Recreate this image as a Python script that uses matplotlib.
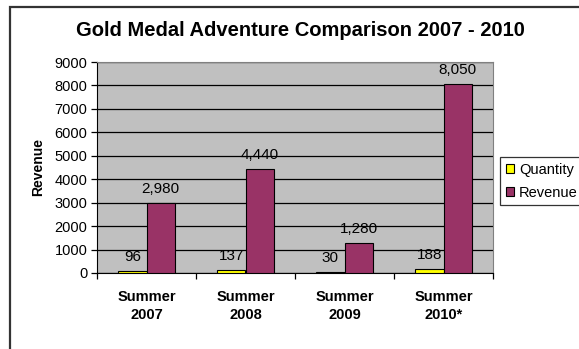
import numpy as np
import matplotlib
matplotlib.use('Agg')
from matplotlib import pyplot as plt
from matplotlib.patches import Rectangle

seasons = ['Summer\n2007', 'Summer\n2008', 'Summer\n2009', 'Summer\n2010*']
quantity = [96, 137, 30, 188]
revenue = [2980, 4440, 1280, 8050]
yticks = [0, 1000, 2000, 3000, 4000, 5000, 6000, 7000, 8000, 9000]

W, H = 579, 349
plt.rcParams['font.family'] = ['Liberation Sans', 'DejaVu Sans']

fig = plt.figure(figsize=(W / 100.0, H / 100.0), dpi=100)
ax = fig.add_axes([97.0 / W, 1 - 273.0 / H, 396.0 / W, 211.0 / H])

# chart area frame, runs off the right and bottom edges
fig.patches.append(Rectangle((10.0 / W, -0.2), 1.2, 1.2 - 7.0 / H, transform=fig.transFigure,
                             fill=False, edgecolor='#333333', linewidth=1.6))

x = np.arange(len(seasons))
w = 0.286
ax.set_facecolor('#C0C0C0')
ax.bar(x - w / 2, quantity, w, color='#FFFF00', edgecolor='black', linewidth=0.8, zorder=3, label='Quantity')
ax.bar(x + w / 2, revenue, w, color='#993366', edgecolor='black', linewidth=0.8, zorder=3, label='Revenue')

for i in range(len(seasons)):
    ax.annotate('{:,}'.format(quantity[i]), (x[i] - w / 2, quantity[i]), xytext=(0, 10),
                textcoords='offset points', ha='center', va='center', fontsize=11)
    ax.annotate('{:,}'.format(revenue[i]), (x[i] + w / 2, revenue[i]), xytext=(0, 10),
                textcoords='offset points', ha='center', va='center', fontsize=11)

ax.set_xlim(-0.5, len(seasons) - 0.5)
ax.set_ylim(0, 9000)
ax.set_yticks(yticks)
ax.set_yticklabels([str(v) for v in yticks], fontsize=10.5)
ax.yaxis.grid(True, color='black', linewidth=0.9, zorder=1)
ax.set_axisbelow(True)
ax.tick_params(axis='y', direction='out', length=4, width=0.9, pad=3)

ax.set_xticks(np.arange(len(seasons) + 1) - 0.5)
ax.set_xticklabels([])
ax.set_xticks(x, minor=True)
ax.set_xticklabels(seasons, minor=True, fontsize=10.5, fontweight='bold', linespacing=1.35)
ax.tick_params(axis='x', which='major', direction='out', length=4, width=0.9)
ax.tick_params(axis='x', which='minor', length=0, pad=12)

for side in ['top', 'right']:
    ax.spines[side].set_color('#808080')
for side in ['left', 'bottom']:
    ax.spines[side].set_color('black')

ax.set_ylabel('Revenue', fontsize=10, fontweight='bold', labelpad=7)

fig.text(300.0 / W, 1 - 30.0 / H, 'Gold Medal Adventure Comparison 2007 - 2010',
         ha='center', va='center', fontsize=14.5, fontweight='bold')

leg = ax.legend(loc='upper left', bbox_to_anchor=(500.0 / W, 1 - 157.0 / H),
                bbox_transform=fig.transFigure, fontsize=10.5, frameon=True, fancybox=False,
                handlelength=0.55, handleheight=0.55, handletextpad=0.35, borderpad=0.4,
                labelspacing=0.6, borderaxespad=0)
leg.get_frame().set_edgecolor('black')
leg.get_frame().set_linewidth(0.9)

fig.savefig('out.png', dpi=100)
plt.close()
